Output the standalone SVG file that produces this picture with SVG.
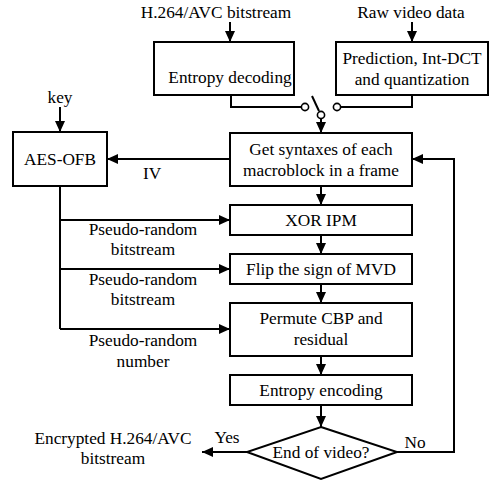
<svg xmlns="http://www.w3.org/2000/svg" width="494" height="483" viewBox="0 0 494 483" font-family="'Liberation Serif', 'DejaVu Serif', serif">
<style>
text{font-family:'Liberation Serif','DejaVu Serif',serif;font-size:17.3px;fill:#000;text-anchor:middle}
.b{fill:#fff;stroke:#000;stroke-width:2}
.c{fill:none;stroke:#000;stroke-width:2}
.a{fill:none;stroke:#000;stroke-width:2;marker-end:url(#ah)}
.o{fill:#fff;stroke:#000;stroke-width:1.6}
</style>
<defs>
<marker id="ah" markerUnits="userSpaceOnUse" markerWidth="12" markerHeight="12" viewBox="0 0 12 12" refX="11" refY="6" orient="auto">
<path d="M0,1 L11,6 L0,11 z" fill="#000"/>
</marker>
</defs>
<rect width="494" height="483" fill="#fff"/>
<g id="connectors">
<path class="a" d="M230,22 V42"/>
<path class="a" d="M412,22 V42"/>
<path class="c" d="M231,95 V107 H301.5"/>
<path class="c" d="M412,95 V107 H340.5"/>
<path class="c" d="M312,96 L319,111"/>
<path class="a" d="M321,118.5 V133"/>
<path class="a" d="M60,107 V132"/>
<path class="a" d="M230,159 H107"/>
<path class="c" d="M60,186 V329"/>
<path class="a" d="M60,220 H230"/>
<path class="a" d="M60,269 H230"/>
<path class="a" d="M60,329 H230"/>
<path class="a" d="M321,186 V205"/>
<path class="a" d="M321,235 V254"/>
<path class="a" d="M321,284 V303"/>
<path class="a" d="M321,356 V375"/>
<path class="a" d="M321,405 V427"/>
<path class="a" d="M247,452 H202"/>
<path class="a" d="M397,452 H454 V159 H412"/>
<circle class="o" cx="305" cy="107" r="3.6"/>
<circle class="o" cx="337" cy="107" r="3.6"/>
<circle class="o" cx="321" cy="115" r="3.6"/>
<text x="152" y="179">IV</text>
<text x="143" y="235">Pseudo-random</text>
<text x="143" y="255">bitstream</text>
<text x="143" y="285">Pseudo-random</text>
<text x="143" y="305">bitstream</text>
<text x="143" y="346">Pseudo-random</text>
<text x="143" y="367">number</text>
<text x="227" y="443">Yes</text>
<text x="415" y="448">No</text>
</g>
<g id="in-h264"><text x="216" y="18">H.264/AVC bitstream</text></g>
<g id="in-raw"><text x="411" y="18">Raw video data</text></g>
<g id="in-key"><text x="60" y="103">key</text></g>
<g id="entropy-decoding"><rect class="b" x="154" y="42" width="140" height="53"/><text x="230" y="83">Entropy decoding</text></g>
<g id="prediction"><rect class="b" x="336" y="42" width="152" height="53"/><text x="412" y="64">Prediction, Int-DCT</text><text x="412" y="85">and quantization</text></g>
<g id="aes-ofb"><rect class="b" x="13" y="132" width="94" height="54"/><text x="60" y="165">AES-OFB</text></g>
<g id="get-syntaxes"><rect class="b" x="230" y="133" width="182" height="53"/><text x="321" y="155">Get syntaxes of each</text><text x="321" y="176">macroblock in a frame</text></g>
<g id="xor-ipm"><rect class="b" x="230" y="205" width="182" height="30"/><text x="321" y="226">XOR IPM</text></g>
<g id="flip-mvd"><rect class="b" x="230" y="254" width="182" height="30"/><text x="321" y="275">Flip the sign of MVD</text></g>
<g id="permute"><rect class="b" x="230" y="303" width="182" height="53"/><text x="321" y="324">Permute CBP and</text><text x="321" y="345">residual</text></g>
<g id="entropy-encoding"><rect class="b" x="230" y="375" width="182" height="30"/><text x="321" y="396">Entropy encoding</text></g>
<g id="end-of-video"><path class="b" d="M321,427 L397,452 L321,479 L247,452 z"/><text x="321" y="458">End of video?</text></g>
<g id="out-encrypted"><text x="113" y="444">Encrypted H.264/AVC</text><text x="113" y="464">bitstream</text></g>
</svg>
